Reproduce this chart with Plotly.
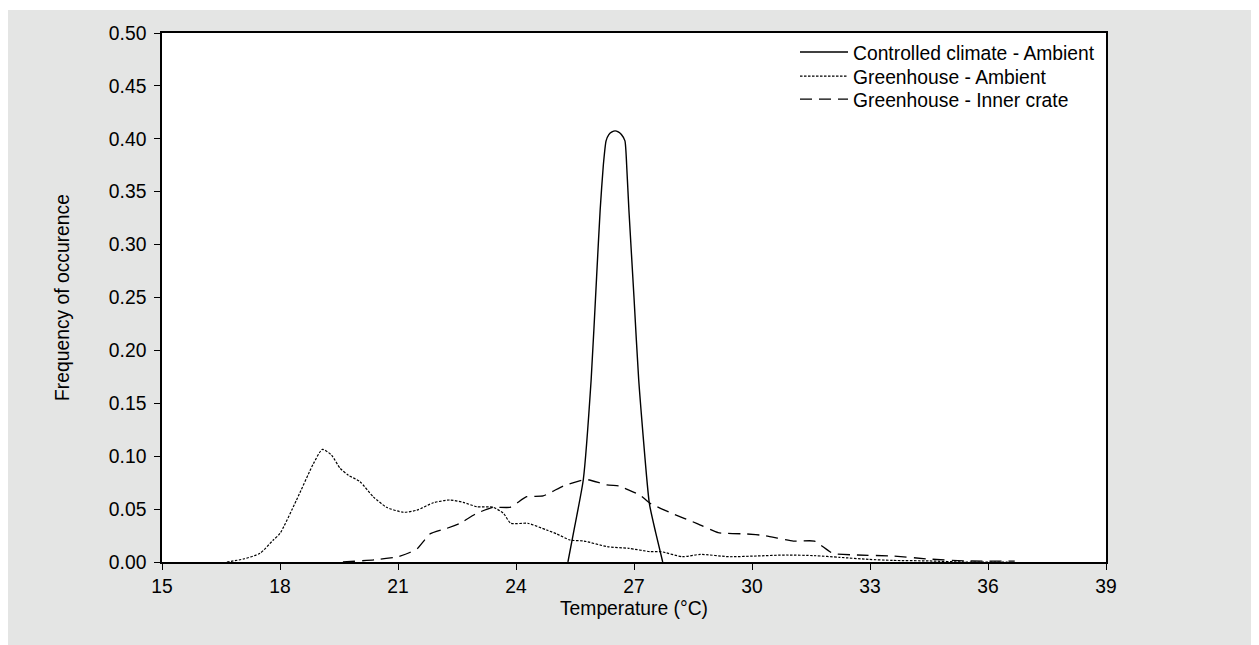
import plotly.graph_objects as go

# Controlled climate - Ambient (solid)
cc_temp = [25.32, 25.5, 25.71, 25.91, 26.05, 26.14, 26.22, 26.29, 26.36, 26.44, 26.52, 26.6, 26.68, 26.77, 26.82, 26.87, 27.0, 27.12, 27.39, 27.55, 27.73]
cc_freq = [0.0, 0.035, 0.0775, 0.172, 0.27, 0.333, 0.375, 0.398, 0.404, 0.4065, 0.4075, 0.4065, 0.404, 0.398, 0.37, 0.333, 0.25, 0.172, 0.0554, 0.028, 0.0]

# Greenhouse - Ambient (dotted)
ga_temp = [16.65, 17.07, 17.49, 17.83, 18.0, 18.42, 18.85, 19.08, 19.31, 19.53, 19.74, 20.03, 20.37, 20.71, 21.14, 21.48, 21.9, 22.32, 22.66, 23.0, 23.42, 23.68, 23.87, 24.3, 24.78, 25.04, 25.37, 25.73, 26.32, 26.87, 27.41, 27.69, 28.23, 28.69, 29.41, 30.14, 30.87, 31.59, 32.23, 32.96, 33.59, 34.5, 35.4, 36.5]
ga_freq = [0.0, 0.0028, 0.0082, 0.0208, 0.027, 0.0586, 0.093, 0.1065, 0.101, 0.0885, 0.082, 0.076, 0.0617, 0.0517, 0.047, 0.049, 0.056, 0.0586, 0.0564, 0.0523, 0.0517, 0.046, 0.0366, 0.0366, 0.0302, 0.0265, 0.0208, 0.0198, 0.0145, 0.0129, 0.0098, 0.0098, 0.005, 0.0072, 0.005, 0.0057, 0.0066, 0.006, 0.0044, 0.0025, 0.0015, 0.001, 0.0, 0.0]

# Greenhouse - Inner crate (dashed)
gi_temp = [19.6, 20.4, 21.0, 21.3, 21.5, 21.81, 22.24, 22.58, 23.0, 23.42, 23.85, 24.27, 24.69, 25.2, 25.71, 25.87, 26.31, 26.65, 26.77, 27.15, 27.41, 27.96, 28.59, 29.14, 29.87, 30.32, 31.05, 31.59, 32.05, 32.68, 33.59, 34.5, 35.41, 36.68]
gi_freq = [0.0, 0.002, 0.005, 0.009, 0.013, 0.0265, 0.0318, 0.0366, 0.046, 0.0517, 0.0517, 0.0617, 0.0624, 0.0718, 0.0775, 0.0775, 0.0728, 0.0718, 0.0696, 0.0633, 0.0554, 0.046, 0.0366, 0.0277, 0.0265, 0.025, 0.0198, 0.0198, 0.0082, 0.0066, 0.0057, 0.0028, 0.001, 0.0009]

x_ticks = [15, 18, 21, 24, 27, 30, 33, 36, 39]
y_ticks = [0.0, 0.05, 0.10, 0.15, 0.20, 0.25, 0.30, 0.35, 0.40, 0.45, 0.50]

FONT = "Liberation Sans, Arial, sans-serif"
FS = 19.3

fig = go.Figure()
fig.add_trace(go.Scatter(x=cc_temp, y=cc_freq, mode="lines", name="Controlled climate - Ambient",
                         legend="legend",
                         line=dict(color="black", width=1.4, shape="spline", smoothing=0.5)))
fig.add_trace(go.Scatter(x=ga_temp, y=ga_freq, mode="lines", name="Greenhouse - Ambient",
                         legend="legend2",
                         line=dict(color="black", width=1.2, dash="2.5px,1.5px", shape="spline", smoothing=0.6)))
fig.add_trace(go.Scatter(x=gi_temp, y=gi_freq, mode="lines", name="Greenhouse - Inner crate",
                         legend="legend3",
                         line=dict(color="black", width=1.3, dash="12px,7px", shape="spline", smoothing=0.4)))

# page body adds 8px offset; figure spans x 8..1259, y 8..645
W, H = 1251, 637
L, R, T, B = 154, 153, 25, 83
pw, ph = W - L - R, H - T - B

legend_x = (795 - 162) / pw


def legend_at(top_page_y):
    return dict(x=legend_x, xanchor="left", y=(562 - top_page_y) / ph, yanchor="top",
                bgcolor="rgba(0,0,0,0)", font=dict(family=FONT, size=FS), itemwidth=48)


fig.update_layout(
    width=W, height=H,
    margin=dict(l=L, r=R, t=T, b=B, pad=0),
    paper_bgcolor="#e4e5e4",
    plot_bgcolor="white",
    font=dict(family=FONT, size=FS, color="black"),
    showlegend=True,
    legend=legend_at(33),
    legend2=legend_at(57),
    legend3=legend_at(80),
    shapes=[
        dict(type="rect", xref="paper", yref="paper",
             x0=-L / pw, x1=(W - L) / pw, y0=1 + (T - 2) / ph, y1=1 + (T + 1) / ph,
             fillcolor="white", line=dict(width=0), layer="above"),
    ],
)
fig.update_xaxes(range=[15, 39], tickvals=x_ticks, ticktext=[str(v) for v in x_ticks],
                 ticks="outside", ticklen=6, tickwidth=1.2, tickcolor="black",
                 showline=True, linecolor="black", linewidth=1.5, mirror=True,
                 showgrid=False, zeroline=False,
                 title=dict(text="Temperature (°C)", standoff=6, font=dict(size=FS)),
                 tickfont=dict(size=FS))
fig.update_yaxes(range=[0, 0.5], tickvals=y_ticks, ticktext=[f"{v:.2f}" for v in y_ticks],
                 ticks="outside", ticklen=6, tickwidth=1.2, tickcolor="black",
                 showline=True, linecolor="black", linewidth=1.5, mirror=True,
                 showgrid=False, zeroline=False, ticklabelstandoff=4,
                 title=dict(text="Frequency of occurence", standoff=34, font=dict(size=FS)),
                 tickfont=dict(size=FS))

fig.write_html("out.html")
